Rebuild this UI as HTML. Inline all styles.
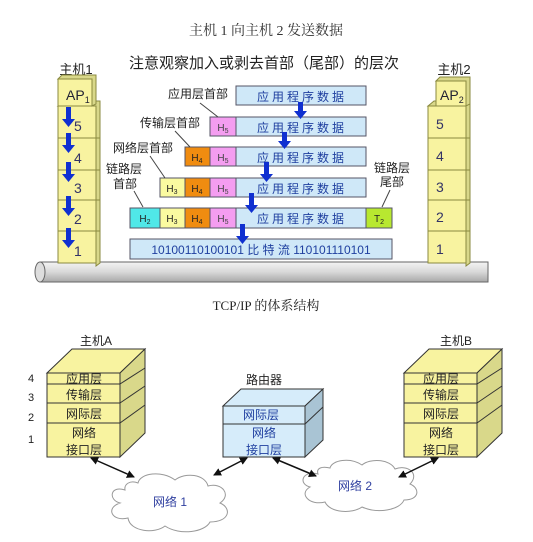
<!DOCTYPE html>
<html><head><meta charset="utf-8"><style>
html,body{margin:0;padding:0;background:#fff;}
svg{display:block;font-family:"Liberation Sans","Noto Sans CJK SC",sans-serif;}
</style></head><body>
<svg width="533" height="542" viewBox="0 0 533 542" xmlns="http://www.w3.org/2000/svg">
<defs>
<linearGradient id="pipe" x1="0" y1="0" x2="0" y2="1"><stop offset="0" stop-color="#f4f4f4"/><stop offset="0.5" stop-color="#d8d8d8"/><stop offset="1" stop-color="#a8a8a8"/></linearGradient>
<marker id="ah" markerWidth="8" markerHeight="8" refX="7" refY="4" orient="auto-start-reverse" markerUnits="userSpaceOnUse"><path d="M0,0 L8,4 L0,8 z" fill="#111"/></marker>
</defs>
<text x="266" y="35" font-size="14" text-anchor="middle" fill="#333" font-family="Liberation Serif,Noto Serif CJK SC,serif">主机 1 向主机 2 发送数据</text>
<text x="264" y="68" font-size="15" text-anchor="middle" fill="#222">注意观察加入或剥去首部（尾部）的层次</text>
<text x="76" y="74" font-size="13" text-anchor="middle" fill="#222">主机1</text>
<text x="454" y="74" font-size="13" text-anchor="middle" fill="#222">主机2</text>

<rect x="40" y="262" width="448" height="20" fill="url(#pipe)" stroke="#666"/>
<ellipse cx="40" cy="272" rx="5" ry="10" fill="#ddd" stroke="#666"/>

<g stroke="#8a8a40" stroke-width="1">
<polygon points="58,106 64,101 100,101 100,263 96,266 96,106" fill="#d9d88a"/>
<rect x="58" y="106" width="38" height="157" fill="#f8f3a0"/>
<line x1="58" y1="138" x2="100" y2="138"/><line x1="58" y1="170" x2="100" y2="170"/><line x1="58" y1="200" x2="100" y2="200"/><line x1="58" y1="231" x2="100" y2="231"/>
<polygon points="58,79 62,75 96,75 96,104 92,106 92,79" fill="#d9d88a"/>
<rect x="58" y="79" width="34" height="27" fill="#f8f3a0"/>
</g>
<text x="66" y="100" font-size="14" fill="#223">AP<tspan font-size="9" dy="3">1</tspan></text>
<g font-size="14" fill="#336">
<text x="74" y="131">5</text><text x="74" y="163">4</text><text x="74" y="193">3</text><text x="74" y="224">2</text><text x="74" y="256">1</text></g>
<g fill="#1030d0">
<path d="M66,107h5v12h4l-6.5,8l-6.5,-8h4z"/>
<path d="M66,133h5v12h4l-6.5,8l-6.5,-8h4z"/>
<path d="M66,162h5v12h4l-6.5,8l-6.5,-8h4z"/>
<path d="M66,196h5v12h4l-6.5,8l-6.5,-8h4z"/>
<path d="M66,228h5v12h4l-6.5,8l-6.5,-8h4z"/>
</g>

<g stroke="#8a8a40" stroke-width="1">
<polygon points="428,106 434,101 470,101 470,263 466,266 466,106" fill="#d9d88a"/>
<rect x="428" y="106" width="38" height="157" fill="#f8f3a0"/>
<line x1="428" y1="138" x2="470" y2="138"/><line x1="428" y1="170" x2="470" y2="170"/><line x1="428" y1="200" x2="470" y2="200"/><line x1="428" y1="231" x2="470" y2="231"/>
<polygon points="436,81 440,77 470,77 470,104 466,106 466,81" fill="#d9d88a"/>
<rect x="436" y="81" width="30" height="25" fill="#f8f3a0"/>
</g>
<text x="440" y="100" font-size="14" fill="#223">AP<tspan font-size="9" dy="3">2</tspan></text>
<g font-size="14" fill="#336">
<text x="436" y="129">5</text><text x="436" y="161">4</text><text x="436" y="192">3</text><text x="436" y="222">2</text><text x="436" y="254">1</text></g>

<g stroke="#556" stroke-width="1">
<rect x="236" y="86" width="130" height="19" fill="#cfe8f8"/>
<rect x="236" y="117" width="130" height="19" fill="#cfe8f8"/><rect x="210" y="117" width="26" height="19" fill="#f49df0"/>
<rect x="236" y="147" width="130" height="19" fill="#cfe8f8"/><rect x="210" y="147" width="26" height="19" fill="#f49df0"/><rect x="185" y="147" width="25" height="19" fill="#f08c10"/>
<rect x="236" y="178" width="130" height="19" fill="#cfe8f8"/><rect x="210" y="178" width="26" height="19" fill="#f49df0"/><rect x="185" y="178" width="25" height="19" fill="#f08c10"/><rect x="160" y="178" width="25" height="19" fill="#fafaa0"/>
<rect x="236" y="208" width="130" height="20" fill="#cfe8f8"/><rect x="210" y="208" width="26" height="20" fill="#f49df0"/><rect x="185" y="208" width="25" height="20" fill="#f08c10"/><rect x="160" y="208" width="25" height="20" fill="#fafaa0"/><rect x="130" y="208" width="30" height="20" fill="#50e8e8"/><rect x="366" y="208" width="26" height="20" fill="#b8e830"/>
<rect x="130" y="239" width="262" height="20" fill="#cfe8f8"/>
</g>
<g font-size="12" fill="#2040a0" text-anchor="middle" letter-spacing="3">
<text x="302" y="101">应用程序数据</text><text x="302" y="132">应用程序数据</text><text x="302" y="162">应用程序数据</text><text x="302" y="193">应用程序数据</text><text x="302" y="223">应用程序数据</text>
</g>
<text x="261" y="254" font-size="12" fill="#2040a0" text-anchor="middle">10100110100101 比 特 流 110101110101</text>
<g font-size="10" text-anchor="middle">
<text x="223" y="131" fill="#444">H<tspan font-size="7" dy="2">5</tspan></text>
<text x="223" y="161" fill="#444">H<tspan font-size="7" dy="2">5</tspan></text><text x="197" y="161" fill="#222">H<tspan font-size="7" dy="2">4</tspan></text>
<text x="223" y="192" fill="#444">H<tspan font-size="7" dy="2">5</tspan></text><text x="197" y="192" fill="#222">H<tspan font-size="7" dy="2">4</tspan></text><text x="172" y="192" fill="#222">H<tspan font-size="7" dy="2">3</tspan></text>
<text x="223" y="222" fill="#444">H<tspan font-size="7" dy="2">5</tspan></text><text x="197" y="222" fill="#222">H<tspan font-size="7" dy="2">4</tspan></text><text x="172" y="222" fill="#222">H<tspan font-size="7" dy="2">3</tspan></text><text x="145" y="222" fill="#222">H<tspan font-size="7" dy="2">2</tspan></text><text x="379" y="222" fill="#222">T<tspan font-size="7" dy="2">2</tspan></text>
</g>
<g font-size="12" fill="#222">
<text x="168" y="98">应用层首部</text>
<text x="140" y="127">传输层首部</text>
<text x="113" y="152">网络层首部</text>
<text x="106" y="173">链路层</text><text x="113" y="188">首部</text>
<text x="374" y="172">链路层</text><text x="380" y="186">尾部</text>
</g>
<g stroke="#444" stroke-width="1">
<line x1="200" y1="103" x2="218" y2="117"/><line x1="175" y1="131" x2="190" y2="147"/><line x1="150" y1="156" x2="165" y2="178"/><line x1="134" y1="191" x2="143" y2="207"/><line x1="390" y1="190" x2="382" y2="207"/>
</g>
<g fill="#1030d0">
<path d="M298,102h5v9h4l-6.5,8l-6.5,-8h4z"/>
<path d="M282,132h5v9h4l-6.5,8l-6.5,-8h4z"/>
<path d="M264,162h5v12h4l-6.5,8l-6.5,-8h4z"/>
<path d="M249,193h5v12h4l-6.5,8l-6.5,-8h4z"/>
<path d="M240,224h5v12h4l-6.5,8l-6.5,-8h4z"/>
</g>

<text x="266" y="310" font-size="13" text-anchor="middle" fill="#222" font-family="Liberation Serif,Noto Serif CJK SC,serif">TCP/IP 的体系结构</text>

<g stroke="#333" stroke-width="1">
<polygon points="47,373 72,349 145,349 120,373" fill="#f8f3a0"/>
<polygon points="120,373 145,349 145,433 120,457" fill="#d9d88a"/>
<rect x="47" y="373" width="73" height="84" fill="#f8f3a0"/>
<line x1="47" y1="384" x2="120" y2="384"/><line x1="47" y1="403" x2="120" y2="403"/><line x1="47" y1="423" x2="120" y2="423"/>
<line x1="120" y1="384" x2="145" y2="368"/><line x1="120" y1="403" x2="145" y2="386"/><line x1="120" y1="423" x2="145" y2="405"/>
</g>
<text x="96" y="345" font-size="12" text-anchor="middle" fill="#222">主机A</text>
<g font-size="12" text-anchor="middle" fill="#222">
<text x="84" y="383">应用层</text><text x="84" y="399">传输层</text><text x="84" y="418">网际层</text><text x="84" y="437">网络</text><text x="84" y="454">接口层</text>
</g>
<g font-size="11" fill="#222"><text x="28" y="382">4</text><text x="28" y="401">3</text><text x="28" y="421">2</text><text x="28" y="443">1</text></g>

<g stroke="#333" stroke-width="1">
<polygon points="404,373 429,349 502,349 477,373" fill="#f8f3a0"/>
<polygon points="477,373 502,349 502,433 477,457" fill="#d9d88a"/>
<rect x="404" y="373" width="73" height="84" fill="#f8f3a0"/>
<line x1="404" y1="384" x2="477" y2="384"/><line x1="404" y1="403" x2="477" y2="403"/><line x1="404" y1="423" x2="477" y2="423"/>
<line x1="477" y1="384" x2="502" y2="368"/><line x1="477" y1="403" x2="502" y2="386"/><line x1="477" y1="423" x2="502" y2="405"/>
</g>
<text x="456" y="345" font-size="12" text-anchor="middle" fill="#222">主机B</text>
<g font-size="12" text-anchor="middle" fill="#222">
<text x="441" y="383">应用层</text><text x="441" y="399">传输层</text><text x="441" y="418">网际层</text><text x="441" y="437">网络</text><text x="441" y="454">接口层</text>
</g>

<g stroke="#333" stroke-width="1">
<polygon points="223,406 241,389 323,389 305,406" fill="#d6ecfa"/>
<polygon points="305,406 323,389 323,440 305,457" fill="#a9c4d4"/>
<rect x="223" y="406" width="82" height="51" fill="#d6ecfa"/>
<line x1="223" y1="424" x2="305" y2="424"/><line x1="305" y1="424" x2="323" y2="407"/>
</g>
<text x="264" y="384" font-size="12" text-anchor="middle" fill="#222">路由器</text>
<g font-size="12" text-anchor="middle" fill="#2040a0">
<text x="261" y="419">网际层</text><text x="264" y="437">网络</text><text x="264" y="454">接口层</text>
</g>

<g fill="#fff" stroke="#999" stroke-width="1">
<path d="M125,490 C110,485 108,500 120,503 C105,508 112,522 128,518 C130,532 155,534 165,526 C180,536 205,532 210,522 C230,522 232,508 220,503 C232,495 222,482 208,486 C205,474 185,472 175,480 C162,470 140,473 138,483 C130,480 124,484 125,490 z"/>
<path d="M318,474 C302,470 298,484 310,487 C298,494 310,506 325,502 C330,513 352,514 362,507 C378,514 400,510 404,500 C420,500 420,488 410,484 C420,474 408,464 395,469 C390,459 370,458 362,465 C350,457 332,460 330,468 C322,466 316,468 318,474 z"/>
</g>
<text x="170" y="506" font-size="12" text-anchor="middle" fill="#3040a0">网络 1</text>
<text x="355" y="490" font-size="12" text-anchor="middle" fill="#3040a0">网络 2</text>

<g stroke="#111" stroke-width="1.5" marker-start="url(#ah)" marker-end="url(#ah)">
<line x1="91" y1="458" x2="134" y2="477"/>
<line x1="247" y1="458" x2="214" y2="475"/>
<line x1="273" y1="458" x2="316" y2="476"/>
<line x1="438" y1="458" x2="399" y2="477"/>
</g>
</svg>
</body></html>
